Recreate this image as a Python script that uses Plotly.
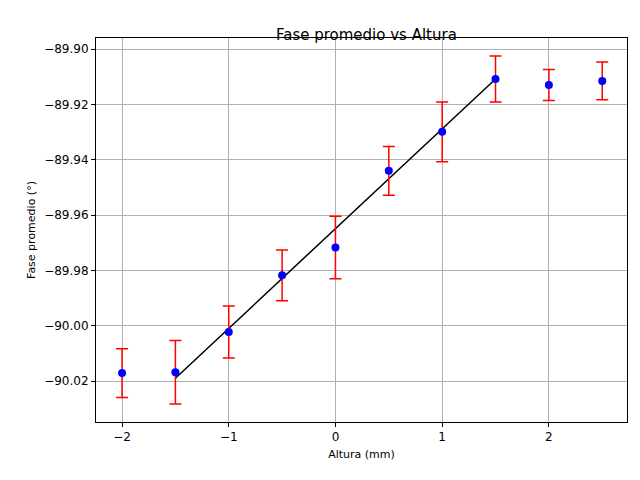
import plotly.graph_objects as go

altura = [-2, -1.5, -1, -0.5, 0, 0.5, 1, 1.5, 2, 2.5]
fase = [-90.0171, -90.0168, -90.0023, -89.9818, -89.9717, -89.9440, -89.9299, -89.9108, -89.9130, -89.9115]
err = [0.0088, 0.0115, 0.0094, 0.0092, 0.0113, 0.0088, 0.0108, 0.0083, 0.0056, 0.0068]
fit_x = [-1.5, 1.5]
fit_y = [-90.0190, -89.9108]

fig = go.Figure()
fig.add_trace(go.Scatter(x=fit_x, y=fit_y, mode="lines", line=dict(color="black", width=1.5), showlegend=False))
fig.add_trace(go.Scatter(x=altura, y=fase, mode="markers",
    marker=dict(color="blue", size=8),
    error_y=dict(type="data", array=err, color="red", thickness=1.5, width=6),
    showlegend=False))
ax = dict(showgrid=True, gridcolor="#b0b0b0", showline=True, linecolor="black", mirror=True,
          ticks="outside", ticklen=4, tickcolor="black", zeroline=False)
fig.update_layout(
    width=640, height=480, plot_bgcolor="white", paper_bgcolor="white",
    font=dict(family="DejaVu Sans", size=12, color="black"),
    margin=dict(l=88, r=21, t=30, b=66),
    title=dict(text="Fase promedio vs Altura", x=0.56, xanchor="center", y=0.955, font=dict(size=15)),
    xaxis=dict(ax, range=[-2.244, 2.732], tickvals=[-2, -1, 0, 1, 2], ticktext=["−2", "−1", "0", "1", "2"],
               title=dict(text="Altura (mm)", standoff=6, font=dict(size=11))),
    yaxis=dict(ax, range=[-90.0348, -89.896], tickvals=[-90.02, -90.0, -89.98, -89.96, -89.94, -89.92, -89.90],
               ticktext=["−90.02", "−90.00", "−89.98", "−89.96", "−89.94", "−89.92", "−89.90"],
               title=dict(text="Fase promedio (°)", standoff=6, font=dict(size=11))),
)
fig.write_html("out.html")
